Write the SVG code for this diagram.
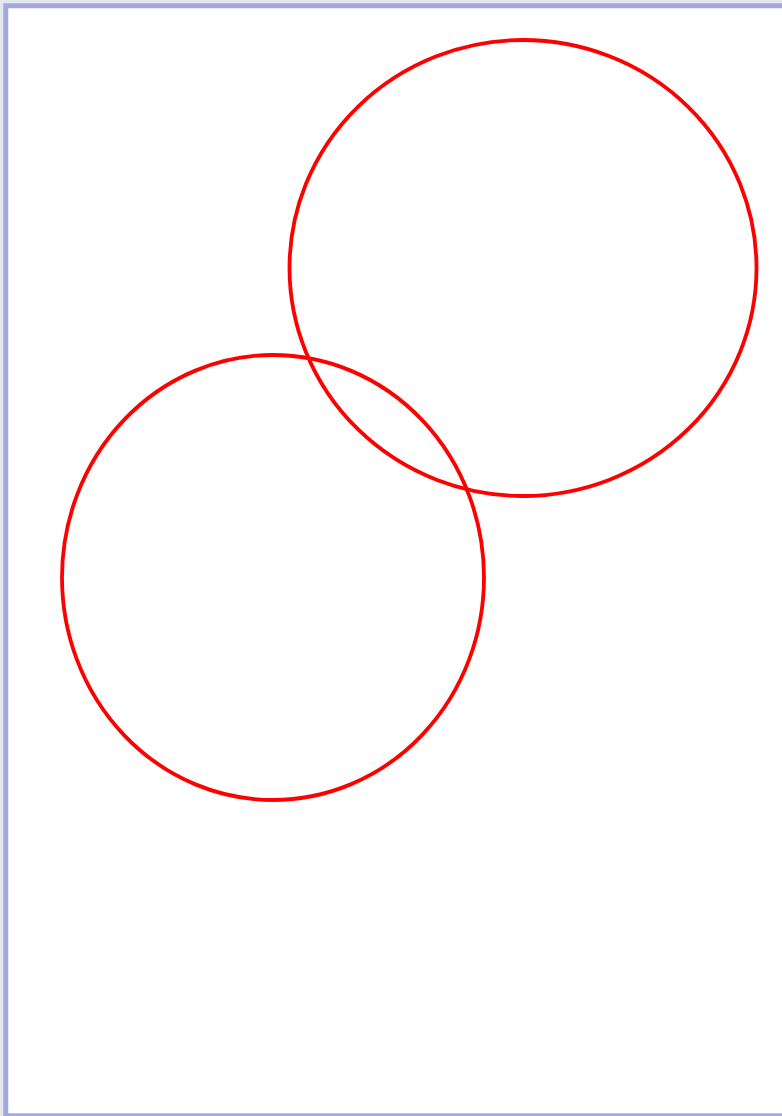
<svg xmlns="http://www.w3.org/2000/svg" width="782" height="1116" viewBox="0 0 782 1116">
  <style>
    .c { fill: none; stroke: #ff0000; stroke-width: 3.8; }
  </style>
  <rect x="0" y="0" width="782" height="1116" fill="#e4e8ea"/>
  <rect x="5.75" y="5.75" width="790" height="1110" fill="#ffffff" stroke="#a6a6e0" stroke-width="5"/>
  <g id="circle-upper">
    <ellipse class="c" cx="523" cy="268" rx="233.5" ry="228"/>
  </g>
  <g id="circle-lower">
    <ellipse class="c" cx="273" cy="577.5" rx="211" ry="222.5"/>
  </g>
</svg>
